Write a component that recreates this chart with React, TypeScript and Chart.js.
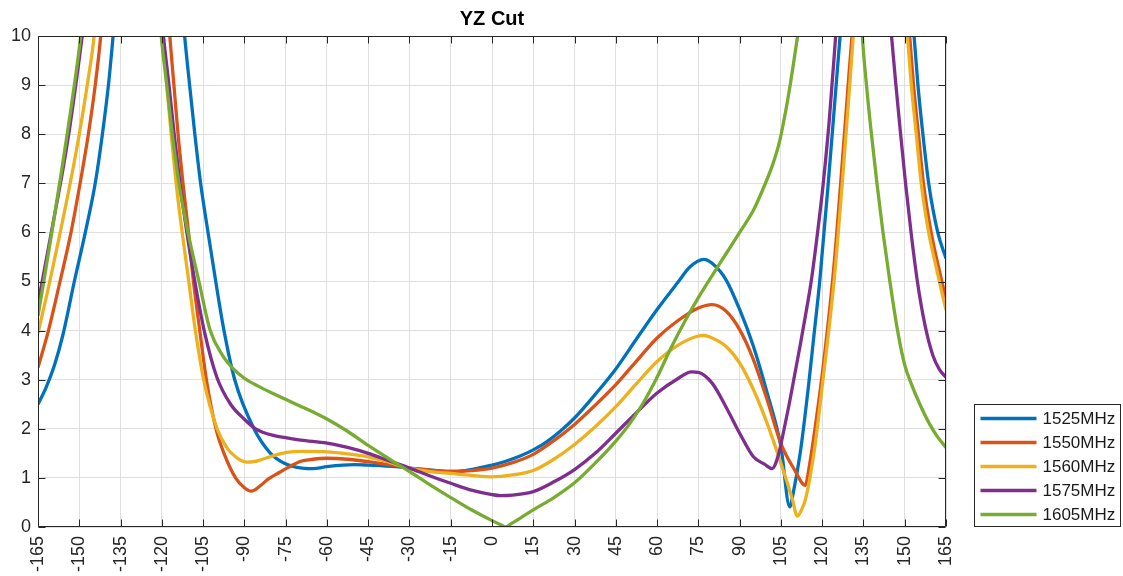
import React, { useEffect, useRef } from 'react';
import { Chart, registerables } from 'chart.js';

Chart.register(...registerables);

// ---------- data ----------
const chartTitle = 'YZ Cut';
const seriesLabels = ['1525MHz', '1550MHz', '1560MHz', '1575MHz', '1605MHz'];
const seriesColors = ['#0072BD', '#D95319', '#EDB120', '#7E2F8E', '#77AC30'];

const xMin = -165;
const xMax = 165;
const xStep = 15;
const yMin = 0;
const yMax = 10;
const yStep = 1;

// 1525 MHz
const ang1525 = [-165, -162, -159, -156, -151.8, -147.8, -144.2, -141.6, -139.4, -137.7, -133, -116, -111.7, -109.9, -108, -105.9, -103.2, -100.4, -97.4, -93.5, -86.5, -80.5, -75.5, -69, -65, -60, -50, -45, -35, -30, -20, -15, -10, -5, 0, 5, 10, 15, 20, 25, 30, 37.5, 45, 52.5, 60, 67.5, 72, 77, 80, 85, 90, 95, 100, 105, 108.2, 109.5, 112, 115, 117, 119.1, 122.2, 125, 126.8, 131, 148, 153.4, 154.8, 156.6, 158.7, 162, 165];
const val1525 = [2.5, 2.85, 3.3, 3.9, 5.0, 6.0, 7.0, 8.0, 9.0, 10, 13, 13, 10, 9, 8, 7, 6, 5, 4, 3, 2, 1.5, 1.3, 1.2, 1.19, 1.23, 1.27, 1.26, 1.23, 1.2, 1.15, 1.13, 1.15, 1.2, 1.26, 1.34, 1.44, 1.57, 1.74, 1.96, 2.22, 2.7, 3.22, 3.83, 4.43, 4.98, 5.3, 5.45, 5.37, 5.04, 4.43, 3.68, 2.73, 1.64, 0.41, 0.7, 1.5, 2.86, 3.9, 5, 7, 8.95, 10.2, 13, 13, 10, 9, 8, 7, 6, 5.47];

// 1550 MHz
const ang1550 = [-165, -161.2, -157, -153, -149.7, -146.7, -144.2, -142.2, -138, -121, -117.1, -115.6, -114.1, -112.3, -110.3, -108.5, -106.2, -103.8, -100.3, -97.4, -93.2, -90, -87.5, -84, -81.5, -77, -74.5, -69.5, -65, -60, -52.5, -45, -37.5, -30, -22.5, -15, -7.5, 0, 7.5, 15, 22.5, 30, 37.5, 45, 52.5, 60, 67.5, 75, 80, 85, 90, 95, 100, 105, 110, 113.8, 115.5, 117.5, 120, 124, 127, 129.7, 131, 135, 147, 151.8, 153.2, 155, 156.8, 159.6, 163.5, 165];
const val1550 = [3.25, 4.0, 5.0, 6.0, 7.0, 8.0, 9.0, 10, 13, 13, 10, 9, 8, 7, 6, 5, 4, 3, 2, 1.5, 1.0, 0.8, 0.73, 0.85, 0.97, 1.12, 1.2, 1.34, 1.38, 1.4, 1.38, 1.33, 1.27, 1.2, 1.16, 1.13, 1.15, 1.2, 1.31, 1.48, 1.76, 2.09, 2.48, 2.9, 3.38, 3.85, 4.2, 4.46, 4.53, 4.4, 4.02, 3.41, 2.59, 1.7, 1.16, 0.85, 1.3, 2.05, 3.1, 5.15, 7.2, 9.2, 10.1, 13, 13, 10, 9, 8, 7, 6, 5, 4.65];

// 1560 MHz
const ang1560 = [-165, -161.3, -157.3, -153.3, -150, -147.1, -144.6, -140, -124, -119.8, -118.2, -116.6, -114.8, -112.6, -110.2, -107.8, -104.8, -99.9, -96.2, -93, -91, -89, -86.5, -84, -79, -74.6, -69.4, -60, -52.5, -45, -37.5, -30, -22.5, -15, -7.5, 0, 7.5, 15, 22.5, 30, 37.5, 45, 52.5, 60, 67.5, 75, 77, 80, 85, 90, 95, 100, 105, 109, 111, 112.5, 114, 117, 120, 124.3, 127.3, 130, 131.3, 136, 147, 151, 152.4, 154.2, 156, 158.7, 161, 163, 165];
const val1560 = [3.95, 4.85, 5.9, 7, 8, 9, 10, 13, 13, 10, 9, 8, 7, 6, 5, 4, 3, 2, 1.6, 1.42, 1.35, 1.32, 1.33, 1.37, 1.46, 1.52, 1.54, 1.53, 1.49, 1.43, 1.32, 1.2, 1.13, 1.09, 1.05, 1.02, 1.06, 1.15, 1.38, 1.68, 2.04, 2.45, 2.92, 3.37, 3.7, 3.89, 3.9, 3.85, 3.68, 3.34, 2.8, 2.11, 1.3, 0.6, 0.22, 0.35, 0.58, 1.5, 2.86, 5, 7, 9, 10, 13, 13, 10, 9, 8, 7, 6, 5.4, 4.9, 4.42];

// 1575 MHz
const ang1575 = [-165, -162.8, -159.5, -156.2, -153.3, -150.8, -148.5, -143, -124, -119.4, -117.4, -115.5, -113.4, -110.9, -108, -104.6, -100, -95, -90.1, -85.9, -79.1, -75, -69.4, -60, -52.5, -45, -37.5, -30, -22.5, -15, -7.5, 0, 3, 7.5, 15, 22.5, 30, 37.5, 45, 52.5, 60, 67.5, 72.5, 75, 80, 85, 90, 95, 99, 101.8, 104, 106, 108, 110, 112, 114, 116, 118, 120.3, 122.6, 124.9, 127, 141, 145.2, 146.8, 148.5, 150.3, 152.3, 154.6, 157.4, 160.2, 162.7, 165];
const val1575 = [4.55, 5.2, 6.2, 7.2, 8.2, 9.2, 10.2, 13, 13, 10, 9, 8, 7, 6, 5, 4, 3.05, 2.5, 2.2, 2.0, 1.86, 1.82, 1.77, 1.71, 1.62, 1.5, 1.35, 1.2, 1.04, 0.89, 0.75, 0.66, 0.64, 0.65, 0.72, 0.92, 1.17, 1.5, 1.91, 2.33, 2.73, 3.02, 3.16, 3.15, 2.93, 2.45, 1.91, 1.43, 1.28, 1.19, 1.45, 1.95, 2.5, 3.1, 3.7, 4.33, 5.0, 5.85, 6.95, 8.3, 10, 11.6, 13, 10, 9, 8, 7, 6, 5, 4.1, 3.5, 3.2, 3.05];

// 1605 MHz
const ang1605 = [-165, -162.6, -159.4, -156.3, -153.6, -151.3, -149.5, -145, -124, -120.2, -118.2, -116.2, -113.8, -110.5, -106.5, -102.4, -98, -94, -90, -85, -80, -75, -70, -65, -60, -52.5, -45, -37.5, -30, -22.5, -15, -7.5, 0, 3, 5, 7, 10, 15, 22.5, 30, 37.5, 45, 50, 55, 60, 65, 70, 75, 80, 85, 90, 95, 99, 102, 104.5, 106.5, 108.5, 110, 111.3, 113, 132, 134.6, 136.1, 137.9, 139.9, 142.1, 144.6, 147.4, 150, 152.5, 155.5, 159, 162, 165];
const val1605 = [4.3, 5.1, 6.2, 7.3, 8.3, 9.2, 10, 13, 13, 10, 9, 8, 7, 6, 5, 4, 3.5, 3.22, 3.03, 2.87, 2.73, 2.6, 2.47, 2.34, 2.2, 1.95, 1.66, 1.39, 1.13, 0.86, 0.6, 0.35, 0.13, 0.05, 0.0, 0.07, 0.17, 0.35, 0.6, 0.9, 1.3, 1.75, 2.1, 2.53, 3.05, 3.64, 4.18, 4.67, 5.12, 5.56, 6.0, 6.45, 6.95, 7.38, 7.85, 8.4, 9.05, 9.6, 10.1, 11, 13, 10, 9, 8, 7, 6, 5, 4, 3.3, 2.9, 2.5, 2.1, 1.83, 1.62];

const seriesAngles = [ang1525, ang1550, ang1560, ang1575, ang1605];
const seriesValues = [val1525, val1550, val1560, val1575, val1605];

// ---------- styling ----------
const W = 1123;
const H = 576;
const axisColor = '#262626';
const gridColor = '#dfdfdf';
const fontFamily = '"Liberation Sans", Arial, Helvetica, sans-serif';
const tickLen = 7;

const framePlugin = {
  id: 'matlabFrame',
  afterDraw(chart: any) {
    const { ctx, chartArea, scales } = chart;
    const { left, right, top, bottom } = chartArea;
    const L = Math.round(left) + 0.5;
    const R = Math.round(right) - 0.5;
    const T = Math.round(top) + 0.5;
    const B = Math.round(bottom) - 0.5;
    ctx.save();
    ctx.strokeStyle = axisColor;
    ctx.lineWidth = 1;
    ctx.beginPath();
    ctx.rect(L, T, R - L, B - T);
    ctx.stroke();
    // inward ticks
    ctx.beginPath();
    for (let v = xMin; v <= xMax; v += xStep) {
      const px = Math.round(scales.x.getPixelForValue(v)) + 0.5;
      ctx.moveTo(px, B);
      ctx.lineTo(px, B - tickLen);
      ctx.moveTo(px, T);
      ctx.lineTo(px, T + tickLen);
    }
    for (let v = yMin; v <= yMax; v += yStep) {
      const py = Math.round(scales.y.getPixelForValue(v)) + 0.5;
      ctx.moveTo(L, py);
      ctx.lineTo(L + tickLen, py);
      ctx.moveTo(R, py);
      ctx.lineTo(R - tickLen, py);
    }
    ctx.stroke();

    // title
    ctx.fillStyle = '#000000';
    ctx.font = `bold 20px ${fontFamily}`;
    ctx.textAlign = 'center';
    ctx.textBaseline = 'middle';
    ctx.fillText(chartTitle, (left + right) / 2, 19);

    // legend
    const boxL = Math.round(right) + 28.5;
    const boxW = 146;
    const boxH = 122;
    const boxT = Math.round(bottom) - boxH - 0.5;
    ctx.fillStyle = '#ffffff';
    ctx.fillRect(boxL, boxT, boxW, boxH);
    ctx.strokeStyle = axisColor;
    ctx.strokeRect(boxL, boxT, boxW, boxH);
    ctx.font = `17px ${fontFamily}`;
    ctx.textAlign = 'left';
    ctx.textBaseline = 'middle';
    const rowH = 24;
    const firstRow = boxT + 14;
    seriesLabels.forEach((lab, i) => {
      const y = firstRow + i * rowH;
      ctx.strokeStyle = seriesColors[i];
      ctx.lineWidth = 3.3;
      ctx.beginPath();
      ctx.moveTo(boxL + 6, y);
      ctx.lineTo(boxL + 62, y);
      ctx.stroke();
      ctx.fillStyle = '#1a1a1a';
      ctx.fillText(lab, boxL + 68, y + 1);
    });
    ctx.restore();
  },
};

export default function App() {
  const canvasRef = useRef<HTMLCanvasElement | null>(null);

  useEffect(() => {
    const canvas = canvasRef.current;
    if (!canvas) return;
    const datasets = seriesLabels.map((label, i) => ({
      label,
      data: seriesAngles[i].map((a, k) => ({ x: a, y: seriesValues[i][k] })),
      borderColor: seriesColors[i],
      backgroundColor: seriesColors[i],
      borderWidth: 3.3,
      pointRadius: 0,
      pointHoverRadius: 0,
      fill: false,
      cubicInterpolationMode: 'monotone' as const,
      order: -i,
    }));

    const chart = new Chart(canvas, {
      type: 'line',
      data: { datasets },
      options: {
        animation: false,
        responsive: false,
        devicePixelRatio: 1,
        events: [],
        layout: { padding: { left: 0, top: 36, right: W - 946, bottom: 0 } },
        plugins: {
          legend: { display: false },
          title: { display: false },
          tooltip: { enabled: false },
        },
        scales: {
          x: {
            type: 'linear',
            min: xMin,
            max: xMax,
            afterFit: (scale: any) => {
              scale.height = H - 527;
              scale.paddingLeft = 0;
              scale.paddingRight = 0;
            },
            ticks: {
              stepSize: xStep,
              autoSkip: false,
              minRotation: 90,
              maxRotation: 90,
              padding: 9,
              color: axisColor,
              font: { family: fontFamily, size: 18 },
              callback: (v: any) => String(v),
            },
            grid: { color: gridColor, lineWidth: 1, drawTicks: false },
            border: { display: false },
          },
          y: {
            type: 'linear',
            min: yMin,
            max: yMax,
            afterFit: (scale: any) => {
              scale.width = 38;
              scale.paddingTop = 0;
              scale.paddingBottom = 0;
            },
            ticks: {
              stepSize: yStep,
              padding: 7,
              color: axisColor,
              font: { family: fontFamily, size: 18 },
              callback: (v: any) => String(v),
            },
            grid: { color: gridColor, lineWidth: 1, drawTicks: false },
            border: { display: false },
          },
        },
      },
      plugins: [framePlugin],
    } as any);

    return () => chart.destroy();
  }, []);

  return (
    <div style={{ position: 'fixed', left: 0, top: 0, width: W, height: H, background: '#ffffff' }}>
      <canvas ref={canvasRef} width={W} height={H} style={{ display: 'block', width: W, height: H }} />
    </div>
  );
}
